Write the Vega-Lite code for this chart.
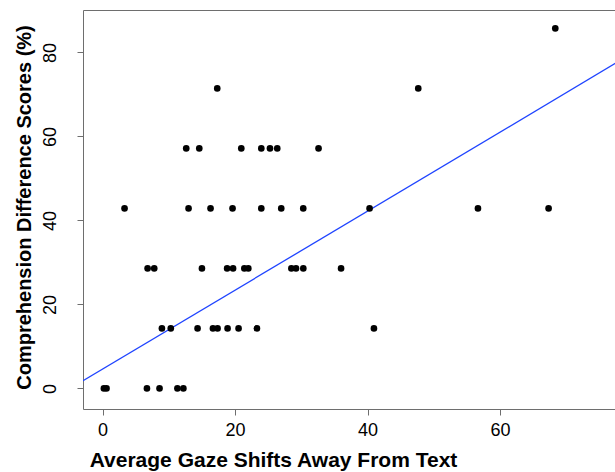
{
  "$schema": "https://vega.github.io/schema/vega-lite/v6.json",
  "autosize": {"type": "none"},
  "padding": {"left": 83, "top": 10, "right": 0, "bottom": 63},
  "width": 540,
  "height": 399,
  "background": "white",
  "config": {
    "view": {"stroke": "#6e6e6e", "strokeWidth": 1},
    "font": "Liberation Sans",
    "axis": {
      "grid": false,
      "domain": false,
      "tickColor": "#6e6e6e",
      "tickSize": 6,
      "labelFont": "Liberation Sans",
      "labelFontSize": 18,
      "labelColor": "black",
      "titleFont": "Liberation Sans",
      "titleFontSize": 20,
      "titleFontWeight": "bold",
      "titleColor": "black"
    }
  },
  "datasets": {
    "points": [
      {"gaze": 68.33, "score": 85.71},
      {"gaze": 17.31, "score": 71.43},
      {"gaze": 47.65, "score": 71.43},
      {"gaze": 12.63, "score": 57.14},
      {"gaze": 14.60, "score": 57.14},
      {"gaze": 20.94, "score": 57.14},
      {"gaze": 23.96, "score": 57.14},
      {"gaze": 25.27, "score": 57.14},
      {"gaze": 26.37, "score": 57.14},
      {"gaze": 32.60, "score": 57.14},
      {"gaze": 3.32, "score": 42.86},
      {"gaze": 12.98, "score": 42.86},
      {"gaze": 16.30, "score": 42.86},
      {"gaze": 19.62, "score": 42.86},
      {"gaze": 23.96, "score": 42.86},
      {"gaze": 26.97, "score": 42.86},
      {"gaze": 30.29, "score": 42.86},
      {"gaze": 40.30, "score": 42.86},
      {"gaze": 56.66, "score": 42.86},
      {"gaze": 67.32, "score": 42.86},
      {"gaze": 6.8, "score": 28.57},
      {"gaze": 7.8, "score": 28.57},
      {"gaze": 15.0, "score": 28.57},
      {"gaze": 18.8, "score": 28.57},
      {"gaze": 19.7, "score": 28.57},
      {"gaze": 21.4, "score": 28.57},
      {"gaze": 22.0, "score": 28.57},
      {"gaze": 28.5, "score": 28.57},
      {"gaze": 29.2, "score": 28.57},
      {"gaze": 30.3, "score": 28.57},
      {"gaze": 36.0, "score": 28.57},
      {"gaze": 8.96, "score": 14.29},
      {"gaze": 10.3, "score": 14.29},
      {"gaze": 14.34, "score": 14.29},
      {"gaze": 16.66, "score": 14.29},
      {"gaze": 17.36, "score": 14.29},
      {"gaze": 18.87, "score": 14.29},
      {"gaze": 20.53, "score": 14.29},
      {"gaze": 23.3, "score": 14.29},
      {"gaze": 40.96, "score": 14.29},
      {"gaze": 0.2, "score": 0},
      {"gaze": 0.6, "score": 0},
      {"gaze": 6.7, "score": 0},
      {"gaze": 8.6, "score": 0},
      {"gaze": 11.3, "score": 0},
      {"gaze": 12.2, "score": 0}
    ],
    "fit": [
      {"gaze": -2.95, "score": 1.82},
      {"gaze": 78.55, "score": 78.47}
    ]
  },
  "layer": [
    {
      "data": {"name": "fit"},
      "mark": {"type": "line", "color": "#1f44ff", "strokeWidth": 1.3, "clip": true},
      "encoding": {
        "x": {"field": "gaze", "type": "quantitative"},
        "y": {"field": "score", "type": "quantitative"}
      }
    },
    {
      "data": {"name": "points"},
      "mark": {"type": "point", "filled": true, "shape": "circle", "color": "black", "opacity": 1, "size": 44},
      "encoding": {
        "x": {
          "field": "gaze",
          "type": "quantitative",
          "scale": {"domain": [-2.95, 78.55], "nice": false, "zero": false},
          "axis": {
            "title": "Average Gaze Shifts Away From Text",
            "values": [0, 20, 40, 60],
            "labelPadding": 6,
            "labelBaseline": "top",
            "titleFontSize": 21,
            "titleX": 190,
            "titleY": 57,
            "titleAnchor": null,
            "titleAlign": "center",
            "titleBaseline": "alphabetic"
          }
        },
        "y": {
          "field": "score",
          "type": "quantitative",
          "scale": {"domain": [-4.9, 90.1], "nice": false, "zero": false},
          "axis": {
            "title": "Comprehension Difference Scores (%)",
            "values": [0, 20, 40, 60, 80],
            "labelAngle": -90,
            "labelAlign": "center",
            "labelBaseline": "alphabetic",
            "labelPadding": 22,
            "titleAngle": -90,
            "titleX": -53,
            "titleY": 197,
            "titleAlign": "center",
            "titleBaseline": "alphabetic"
          }
        }
      }
    }
  ]
}
